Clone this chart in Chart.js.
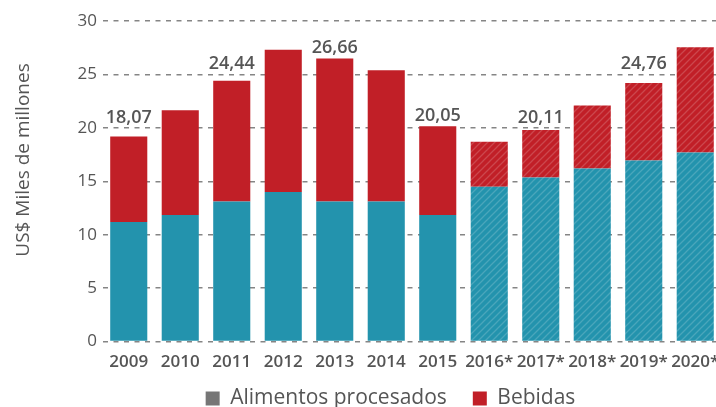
<!DOCTYPE html>
<html>
<head>
<meta charset="utf-8">
<script src="https://cdn.jsdelivr.net/npm/chart.js@4/dist/chart.umd.min.js"></script>
<style>
  html, body { margin: 0; padding: 0; overflow: hidden; background: #fff; }
  canvas { display: block; }
</style>
</head>
<body>
<canvas id="c" width="722" height="407"></canvas>
<script>
const categories = ['2009','2010','2011','2012','2013','2014','2015','2016*','2017*','2018*','2019*','2020*'];
const alimentos  = [11.2, 11.85, 13.1, 14.0, 13.1, 13.1, 11.85, 14.5, 15.35, 16.2, 16.95, 17.7];
const bebidas    = [8.0, 9.8, 11.3, 13.3, 13.4, 12.3, 8.3, 4.2, 4.45, 5.9, 7.25, 9.85];
const totalLabels = ['18,07', null, '24,44', null, '26,66', null, '20,05', null, '20,11', null, '24,76', null];
const projectedFrom = 7;
const yTicks = [0, 5, 10, 15, 20, 25, 30];
const yTitle = 'US$ Miles de millones';
const legendNames = ['Alimentos procesados', 'Bebidas'];

const TEAL = '#2393ad', RED = '#c11f27', GREY_TXT = '#555555', LEG_GREY = '#767676';
const FONT = "'Open Sans', 'Noto Sans', sans-serif";

function hatch(color) {
  const s = 7;
  const c = document.createElement('canvas');
  c.width = s; c.height = s;
  const g = c.getContext('2d');
  g.fillStyle = color; g.fillRect(0, 0, s, s);
  g.strokeStyle = 'rgba(255,255,255,0.18)';
  g.lineWidth = 1.3;
  g.beginPath();
  g.moveTo(0, s); g.lineTo(s, 0);
  g.moveTo(-s/2, s/2); g.lineTo(s/2, -s/2);
  g.moveTo(s/2, s*1.5); g.lineTo(s*1.5, s/2);
  g.stroke();
  return document.getElementById('c').getContext('2d').createPattern(c, 'repeat');
}
const tealHatch = hatch(TEAL), redHatch = hatch(RED);

const labelsPlugin = {
  id: 'totalLabels',
  afterDatasetsDraw(chart) {
    const ctx = chart.ctx, y = chart.scales.y;
    const meta = chart.getDatasetMeta(1);
    ctx.save();
    ctx.font = `600 18px ${FONT}`;
    ctx.fillStyle = GREY_TXT;
    ctx.textAlign = 'center';
    ctx.textBaseline = 'alphabetic';
    totalLabels.forEach((t, i) => {
      if (!t) return;
      const total = alimentos[i] + bebidas[i];
      let base = total;
      const g = Math.ceil(total / 5) * 5;
      if (g - total < 1) base = g;
      ctx.fillText(t, meta.data[i].x, y.getPixelForValue(base) - 5);
    });
    ctx.restore();
  }
};

const titlePlugin = {
  id: 'yTitle',
  afterDraw(chart) {
    const ctx = chart.ctx;
    ctx.save();
    ctx.translate(24, 160);
    ctx.rotate(-Math.PI / 2);
    ctx.font = `500 19px ${FONT}`;
    ctx.fillStyle = GREY_TXT;
    ctx.textAlign = 'center';
    ctx.textBaseline = 'middle';
    ctx.fillText(yTitle, 0, 0);
    ctx.restore();
  }
};

const legendShift = {
  id: 'legendShift',
  afterLayout(chart) {
    const l = chart.legend;
    if (l) { l.left = 60; l.top -= 20; }
  }
};

new Chart(document.getElementById('c'), {
  type: 'bar',
  data: {
    labels: categories,
    datasets: [
      { label: legendNames[0], data: alimentos,
        backgroundColor: ctx => ctx.dataIndex >= projectedFrom ? tealHatch : TEAL },
      { label: legendNames[1], data: bebidas,
        backgroundColor: ctx => ctx.dataIndex >= projectedFrom ? redHatch : RED }
    ]
  },
  options: {
    responsive: false,
    animation: false,
    layout: { padding: { top: 21, left: 0, right: 1, bottom: -32 } },
    datasets: { bar: { categoryPercentage: 1, barPercentage: 0.72, borderWidth: 0 } },
    scales: {
      x: {
        stacked: true,
        afterFit: s => { s.paddingLeft = 0; s.paddingRight = 0; },
        grid: { display: false, drawTicks: false },
        border: { display: false },
        ticks: { color: GREY_TXT, font: { family: FONT, size: 17, weight: '600' }, padding: 10, maxRotation: 0, autoSkip: false }
      },
      y: {
        stacked: true,
        min: 0, max: 30,
        afterFit: s => { s.width = 103; },
        afterBuildTicks: s => { s.ticks = yTicks.map(v => ({ value: v })); },
        grid: { color: '#858585', lineWidth: 1.5, drawTicks: false },
        border: { display: false, dash: [5, 5.5] },
        ticks: { color: GREY_TXT, font: { family: FONT, size: 17, weight: '500' }, padding: 6 }
      }
    },
    plugins: {
      legend: {
        position: 'bottom',
        labels: {
          color: GREY_TXT,
          font: { family: FONT, size: 21 },
          boxWidth: 14, boxHeight: 14, padding: 26,
          generateLabels: () => [
            { text: legendNames[0], fillStyle: LEG_GREY, strokeStyle: LEG_GREY, lineWidth: 0, datasetIndex: 0, fontColor: GREY_TXT },
            { text: legendNames[1], fillStyle: RED, strokeStyle: RED, lineWidth: 0, datasetIndex: 1, fontColor: GREY_TXT }
          ]
        }
      },
      tooltip: { enabled: false }
    }
  },
  plugins: [labelsPlugin, titlePlugin, legendShift]
});
</script>
</body>
</html>
